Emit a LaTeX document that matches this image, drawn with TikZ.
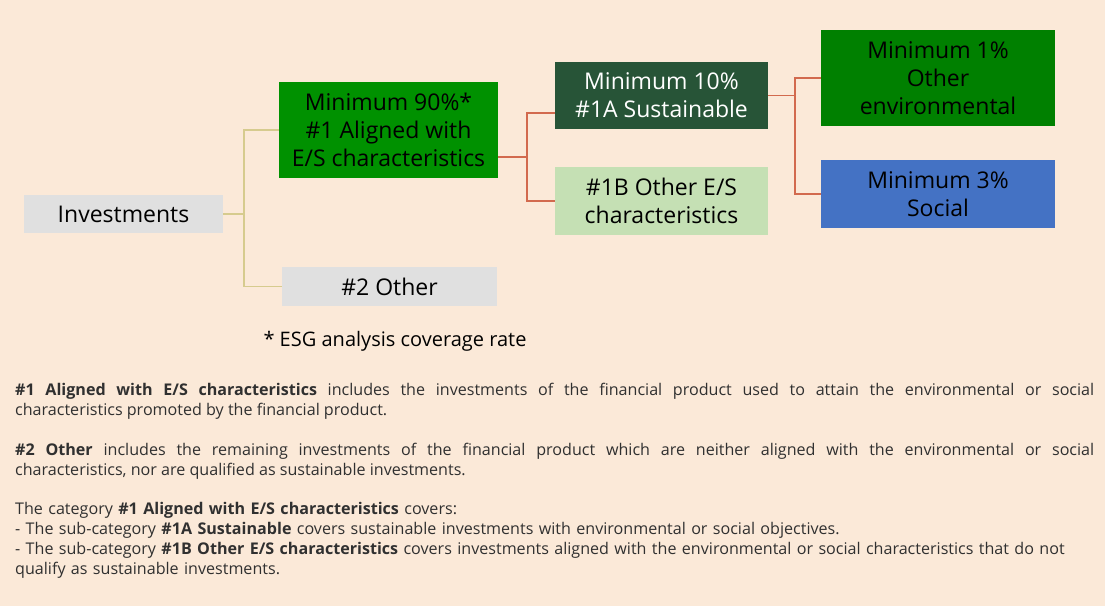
\documentclass[tikz,border=0pt]{standalone}
\usepackage{fontspec}
\setmainfont{Open Sans}
\definecolor{peach}{HTML}{FBE9D8}
\definecolor{boxgray}{HTML}{E0E0E0}
\definecolor{green90}{HTML}{009100}
\definecolor{green1}{HTML}{008000}
\definecolor{darkgreen}{HTML}{275437}
\definecolor{lightgreen}{HTML}{C5E0B4}
\definecolor{socblue}{HTML}{4472C4}
\definecolor{tanline}{HTML}{D6CB8E}
\definecolor{redline}{HTML}{D26A4E}
\definecolor{bodytext}{HTML}{303030}
\usetikzlibrary{calc}

\begin{document}
\begin{tikzpicture}[x=1pt,y=-1pt,
	box/.style={inner sep=0pt, align=center, font=\fontsize{23}{28}\selectfont},
	tan/.style={draw=tanline, line width=1.8pt},
	red/.style={draw=redline, line width=1.8pt},
	para/.style={anchor=north west, inner sep=0pt, text width=1079pt,
		text=bodytext, font=\fontsize{16.1}{20}\selectfont}]
	\useasboundingbox (0,0) rectangle (1105,606);
	\fill[peach] (0,0) rectangle (1105,606);
	% boxes
	\node[box, fill=boxgray, minimum width=199pt, minimum height=38pt] (inv) at (123.5,214) {Investments};
	\node[box, fill=green90, minimum width=219pt, minimum height=96pt] (al) at (388.5,130) {Minimum 90\%*\\\#1 Aligned with\\E/S characteristics};
	\node[box, fill=boxgray, minimum width=215pt, minimum height=39pt] (oth) at (389.5,286.5) {\#2 Other};
	\node[box, fill=darkgreen, text=white, minimum width=213pt, minimum height=67pt] (sus) at (661.5,95.5) {Minimum 10\%\\\#1A Sustainable};
	\node[box, fill=lightgreen, minimum width=213pt, minimum height=68pt] (oes) at (661.5,201) {\#1B Other E/S\\characteristics};
	\node[box, fill=green1, minimum width=234pt, minimum height=96pt] (env) at (938,78) {Minimum 1\%\\Other\\environmental};
	\node[box, fill=socblue, minimum width=234pt, minimum height=68pt] (soc) at (938,194) {Minimum 3\%\\Social};
	% connectors
	\draw[tan] (inv.east) -- ++(21,0) coordinate (tj);
	\draw[tan] (al.west) -| (tj) |- (oth.west);
	\draw[red] ([yshift=-27pt]al.east) -- ++(29,0) coordinate (rj);
	\draw[red] ([yshift=-17.5pt]sus.west) -| (rj) |- (oes.west);
	\draw[red] (sus.east) -- ++(27,0) coordinate (sj);
	\draw[red] (env.west) -| (sj) |- (soc.west);
	% notes
	\node[inner sep=0pt, font=\fontsize{20}{24}\selectfont] (esg) at (395,341) {* ESG analysis coverage rate};
	\node[para, align=justify] (p1) at (15,383) {\textbf{\#1 Aligned with E/S characteristics} includes the investments of the financial product used to attain the environmental or social\linebreak characteristics promoted by the financial product.};
	\node[para, align=justify] (p2) at (15,443) {\textbf{\#2 Other} includes the remaining investments of the financial product which are neither aligned with the environmental or social\linebreak characteristics, nor are qualified as sustainable investments.};
	\node[para, align=left] (p3) at (15,502) {The category \textbf{\#1 Aligned with E/S characteristics} covers:\\- The sub-category \textbf{\#1A Sustainable} covers sustainable investments with environmental or social objectives.\\- The sub-category \textbf{\#1B Other E/S characteristics} covers investments aligned with the environmental or social characteristics that do not\\qualify as sustainable investments.};
\end{tikzpicture}
\end{document}
